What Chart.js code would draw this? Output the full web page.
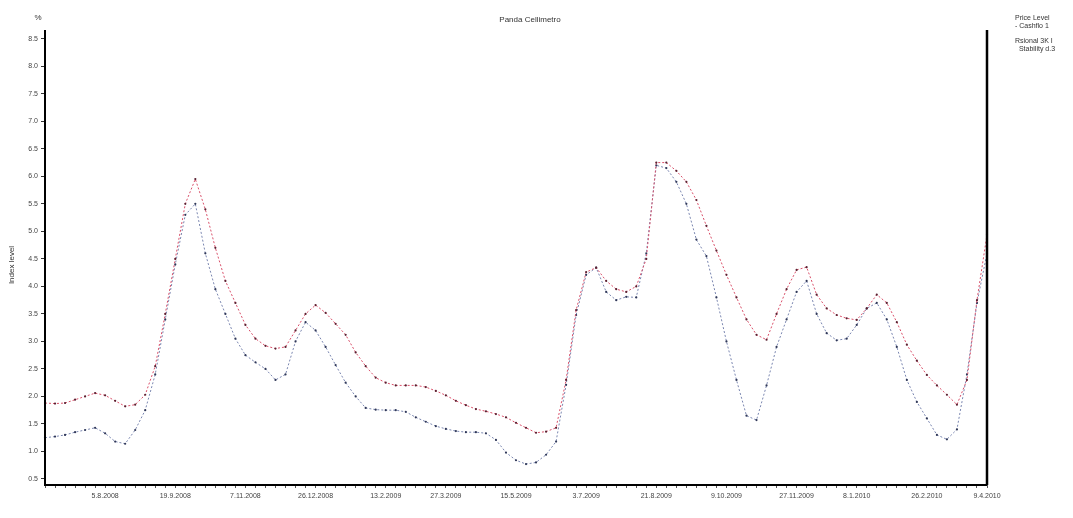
<!DOCTYPE html>
<html><head><meta charset="utf-8">
<script src="https://cdn.jsdelivr.net/npm/chart.js@4.4.0/dist/chart.umd.min.js"></script>
<style>html,body{margin:0;padding:0;background:#fff}#wrap{width:1073px;height:518px;position:relative}</style>
</head><body><div id="wrap"><canvas id="c" width="1073" height="518"></canvas></div>
<script>
const chartTitle = "Panda Cellimetro";
const unitLabel = "%";
const yAxisTitle = "Index level";
const legendLines = [["Price Level", "- Cashflo 1"], ["Rsional 3K I", "  Stability d.3"]];

const seriesRed = [1.88,1.87,1.88,1.94,2.0,2.06,2.02,1.92,1.82,1.85,2.03,2.55,3.5,4.5,5.5,5.95,5.4,4.7,4.1,3.7,3.3,3.05,2.92,2.87,2.9,3.2,3.5,3.66,3.52,3.32,3.12,2.8,2.55,2.34,2.25,2.2,2.2,2.2,2.17,2.1,2.02,1.92,1.84,1.77,1.73,1.68,1.62,1.52,1.43,1.34,1.36,1.43,2.3,3.57,4.26,4.34,4.1,3.95,3.9,4.0,4.5,6.25,6.25,6.1,5.9,5.57,5.1,4.65,4.21,3.8,3.4,3.12,3.03,3.5,3.95,4.3,4.35,3.85,3.6,3.48,3.42,3.39,3.6,3.85,3.7,3.35,2.94,2.65,2.39,2.2,2.03,1.85,2.3,3.75,4.94];
const seriesBlue = [1.25,1.27,1.3,1.35,1.39,1.43,1.33,1.18,1.14,1.39,1.75,2.4,3.4,4.4,5.3,5.5,4.6,3.95,3.5,3.05,2.75,2.62,2.5,2.3,2.4,3.0,3.35,3.2,2.9,2.57,2.25,2.0,1.79,1.76,1.75,1.75,1.72,1.62,1.54,1.46,1.41,1.37,1.35,1.35,1.33,1.21,0.98,0.84,0.77,0.8,0.94,1.18,2.21,3.48,4.21,4.34,3.9,3.75,3.81,3.8,4.6,6.2,6.15,5.9,5.5,4.85,4.55,3.8,3.0,2.3,1.65,1.57,2.2,2.9,3.4,3.9,4.1,3.5,3.15,3.02,3.05,3.3,3.6,3.7,3.4,2.9,2.3,1.9,1.6,1.3,1.22,1.4,2.4,3.7,4.6];
const categories = seriesRed.map((v, i) => "W" + (i + 1));
const tickIndex = [6,13,20,27,34,40,47,54,61,68,75,81,88,94];
const tickLabels = ["5.8.2008","19.9.2008","7.11.2008","26.12.2008","13.2.2009","27.3.2009","15.5.2009","3.7.2009","21.8.2009","9.10.2009","27.11.2009","8.1.2010","26.2.2010","9.4.2010"];
const yTicks = [0.5,1.0,1.5,2.0,2.5,3.0,3.5,4.0,4.5,5.0,5.5,6.0,6.5,7.0,7.5,8.0,8.5];

const F = "'Liberation Sans', Arial, sans-serif";
const deco = {
  id: 'deco',
  afterDraw(chart) {
    const {ctx, chartArea: a} = chart;
    ctx.save();
    ctx.strokeStyle = '#000';
    ctx.lineWidth = 2;
    ctx.beginPath(); ctx.moveTo(a.left, a.top); ctx.lineTo(a.left, a.bottom); ctx.lineTo(a.right, a.bottom); ctx.stroke();
    ctx.lineWidth = 2.5;
    ctx.beginPath(); ctx.moveTo(a.right, a.top); ctx.lineTo(a.right, a.bottom); ctx.stroke();
    ctx.fillStyle = '#333';
    ctx.font = "8px " + F;
    ctx.textAlign = 'center'; ctx.textBaseline = 'middle';
    ctx.fillText(chartTitle, 530, 20);
    ctx.fillText(unitLabel, 38, 18);
    ctx.save(); ctx.translate(12, 265); ctx.rotate(-Math.PI / 2); ctx.fillText(yAxisTitle, 0, 0); ctx.restore();
    ctx.textAlign = 'left';
    ctx.font = "7px " + F;
    let y = 18;
    legendLines.forEach(item => {
      item.forEach(t => { ctx.fillText(t, 1015, y); y += 8; });
      y += 7;
    });
    ctx.restore();
  }
};

new Chart(document.getElementById('c'), {
  type: 'line',
  data: {
    labels: categories,
    datasets: [
      {label: legendLines[0].join(' '), data: seriesRed, borderColor: '#d9506a', borderWidth: 1, borderDash: [2, 2],
       pointRadius: 1.1, pointBackgroundColor: '#5a2030', pointBorderWidth: 0, tension: 0},
      {label: legendLines[1].join(' '), data: seriesBlue, borderColor: '#7a86b0', borderWidth: 1, borderDash: [2, 2],
       pointRadius: 1.1, pointBackgroundColor: '#303858', pointBorderWidth: 0, tension: 0}
    ]
  },
  options: {
    responsive: false, animation: false,
    layout: {padding: {top: 30, right: 86, left: 0, bottom: 0}},
    plugins: {legend: {display: false}, title: {display: false}, tooltip: {enabled: false}},
    scales: {
      x: {
        offset: false,
        grid: {display: true, drawOnChartArea: false, drawTicks: true, tickLength: 3, color: '#555'},
        border: {display: false},
        ticks: {autoSkip: false, maxRotation: 0, minRotation: 0, color: '#444', font: {size: 7, family: F}, padding: 4,
          callback: (v, i) => { const k = tickIndex.indexOf(i); return k >= 0 ? tickLabels[k] : ''; }},
        afterFit: s => { s.height = 33; }
      },
      y: {
        min: 0.39, max: 8.66,
        afterBuildTicks: s => { s.ticks = yTicks.map(v => ({value: v})); },
        grid: {display: true, drawOnChartArea: false, tickLength: 4, color: '#333'},
        border: {display: false},
        ticks: {color: '#444', font: {size: 7, family: F}, padding: 3, callback: v => Number(v).toFixed(1)},
        afterFit: s => { s.width = 45; }
      }
    }
  },
  plugins: [deco]
});
</script></body></html>
